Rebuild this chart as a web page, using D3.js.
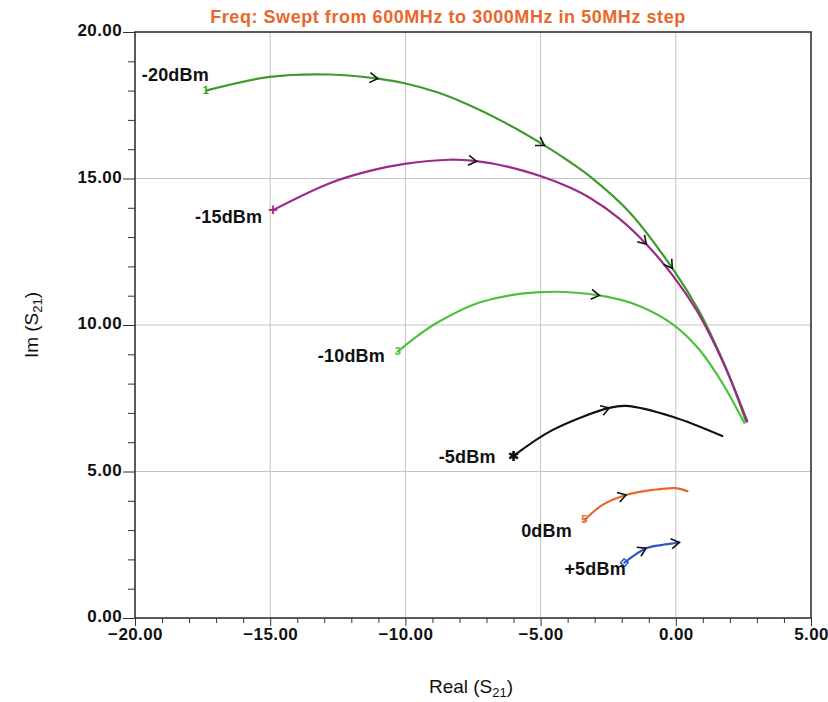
<!DOCTYPE html>
<html>
<head>
<meta charset="utf-8">
<script src="https://cdn.jsdelivr.net/npm/d3@7"></script>
<style>
  html, body { margin: 0; padding: 0; background: #fff; }
  svg { display: block; font-family: "Liberation Sans", Arial, Helvetica, sans-serif; }
</style>
</head>
<body>
<svg id="chart" width="828" height="702"></svg>
<script>
// ---------- data (Real, Im) ----------
const xTicks = [-20, -15, -10, -5, 0, 5];
const yTicks = [0, 5, 10, 15, 20];

const seriesNames = ["-20dBm", "-15dBm", "-10dBm", "-5dBm", "0dBm", "+5dBm"];
const seriesColors = ["#3f9a2c", "#9a2b88", "#4cc23a", "#111111", "#e8672c", "#3157c2"];
const startMarkers = ["1", "+", "3", "asterisk", "5", "diamond"];

const sM20 = [[-17.38,18.0],[-15.01,18.47],[-12.80,18.55],[-11.02,18.41],[-10.03,18.25],[-8.85,17.95],
              [-7.63,17.50],[-6.41,16.95],[-4.86,16.13],[-3.94,15.58],[-3.20,15.09],[-1.72,13.86],
              [-0.13,11.94],[0.86,10.48],[1.34,9.59],[1.97,8.28],[2.60,6.69]];
const sM15 = [[-14.90,13.92],[-12.80,14.84],[-11.32,15.26],[-10.03,15.50],[-8.37,15.64],[-7.37,15.59],
              [-6.15,15.39],[-4.93,15.06],[-3.94,14.70],[-3.20,14.35],[-2.09,13.63],[-1.09,12.76],
              [-0.13,11.71],[0.75,10.53],[1.34,9.52],[1.97,8.26],[2.64,6.72]];
const sM10 = [[-10.28,9.09],[-9.59,9.60],[-8.86,10.06],[-7.26,10.77],[-5.04,11.12],[-2.83,11.01],
              [-1.35,10.65],[-0.06,9.99],[0.86,9.17],[1.72,8.02],[2.53,6.66]];
const sM5  = [[-6.0,5.53],[-4.55,6.42],[-2.46,7.17],[-1.84,7.24],[-0.12,6.87],[1.72,6.21]];
const s0   = [[-3.38,3.34],[-2.71,3.86],[-1.84,4.2],[-0.86,4.37],[0.0,4.43],[0.43,4.33]];
const sP5  = [[-1.9,1.89],[-1.1,2.38],[-0.54,2.49],[0.0,2.56],[0.13,2.58]];
const allSeries = [sM20, sM15, sM10, sM5, s0, sP5];

// indices of points carrying a direction arrow
const arrowIdx = [[3, 8, 12], [5, 11], [5], [2], [2], [1, 4]];

// label anchor points (data coords, left/baseline) for the dBm labels
const labelPos = [[-19.75,18.33],[-17.78,13.48],[-13.24,8.75],[-8.77,5.29],[-5.72,2.77],[-4.12,1.47]];

// ---------- drawing ----------
const svg = d3.select("#chart");
const L = 135, R = 811, T = 32, B = 618;
const x = d3.scaleLinear().domain([-20, 5]).range([L, R]);
const y = d3.scaleLinear().domain([0, 20]).range([B, T]);
const minorX = d3.range(-20, 5.01, 1).filter(v => !xTicks.includes(v));
const minorY = d3.range(0, 20.01, 1).filter(v => !yTicks.includes(v));

svg.append("rect").attr("width", 828).attr("height", 702).attr("fill", "#fff");

// grid
const grid = svg.append("g").attr("stroke", "#c4c4c4").attr("stroke-width", 1);
grid.selectAll("line.gx").data(xTicks.slice(1, -1)).join("line")
  .attr("x1", d => x(d)).attr("x2", d => x(d)).attr("y1", T).attr("y2", B);
grid.selectAll("line.gy").data(yTicks.slice(1, -1)).join("line")
  .attr("y1", d => y(d)).attr("y2", d => y(d)).attr("x1", L).attr("x2", R);

// axes
const fmt = d3.format(".2f");
const xAxisMinor = svg.append("g").attr("transform", `translate(0,${B})`)
  .call(d3.axisBottom(x).tickValues(minorX).tickSize(5).tickFormat(""));
const xAxis = svg.append("g").attr("transform", `translate(0,${B})`)
  .call(d3.axisBottom(x).tickValues(xTicks).tickSize(8).tickPadding(2).tickFormat(fmt));
const yAxisMinor = svg.append("g").attr("transform", `translate(${L},0)`)
  .call(d3.axisLeft(y).tickValues(minorY).tickSize(7).tickFormat(""));
const yAxis = svg.append("g").attr("transform", `translate(${L},0)`)
  .call(d3.axisLeft(y).tickValues(yTicks).tickSize(12).tickPadding(1).tickFormat(fmt));
[xAxisMinor, xAxis, yAxisMinor, yAxis].forEach(g => {
  g.select(".domain").remove();
  g.selectAll(".tick line").attr("stroke", "#333").attr("stroke-width", 1);
  g.selectAll("text").attr("fill", "#111").attr("font-size", 17).attr("font-weight", "bold")
    .attr("letter-spacing", "0.4px").attr("font-family", '"Liberation Sans", Arial, sans-serif');
});
yAxis.selectAll("text").attr("dy", "0.22em");

// frame
svg.append("rect").attr("x", L).attr("y", T).attr("width", R - L).attr("height", B - T)
  .attr("fill", "none").attr("stroke", "#333").attr("stroke-width", 1.6);

// curves
const line = d3.line().x(d => x(d[0])).y(d => y(d[1])).curve(d3.curveCatmullRom.alpha(0.5));
const curves = svg.append("g");
allSeries.forEach((s, i) => {
  curves.append("path").datum(s).attr("d", line)
    .attr("fill", "none").attr("stroke", seriesColors[i]).attr("stroke-width", 2.2)
    .attr("stroke-linecap", "round");
});

// arrows
const arrows = svg.append("g");
allSeries.forEach((s, i) => {
  arrowIdx[i].forEach(k => {
    const a = s[Math.max(0, k - 1)], b = s[Math.min(s.length - 1, k + 1)];
    const ang = Math.atan2(y(b[1]) - y(a[1]), x(b[0]) - x(a[0])) * 180 / Math.PI;
    arrows.append("path")
      .attr("d", "M-8,-5 L0,0 L-8,5")
      .attr("transform", `translate(${x(s[k][0])},${y(s[k][1])}) rotate(${ang})`)
      .attr("fill", "none").attr("stroke", "#111").attr("stroke-width", 1.6)
      .attr("stroke-linejoin", "miter");
  });
});

// start markers
const marks = svg.append("g");
allSeries.forEach((s, i) => {
  const m = startMarkers[i];
  const px = x(s[0][0]), py = y(s[0][1]);
  if (m === "asterisk") {
    marks.append("path").attr("d", d3.symbol(d3.symbolAsterisk, 70)())
      .attr("transform", `translate(${px},${py})`)
      .attr("fill", "none").attr("stroke", seriesColors[i]).attr("stroke-width", 2.6);
  } else if (m === "diamond") {
    marks.append("path").attr("d", d3.symbol(d3.symbolSquare, 30)())
      .attr("transform", `translate(${px},${py}) rotate(40)`)
      .attr("fill", "none").attr("stroke", seriesColors[i]).attr("stroke-width", 1.5);
  } else {
    marks.append("text")
      .attr("x", px).attr("y", py)
      .attr("dy", "0.3em")
      .attr("text-anchor", "middle")
      .attr("font-size", m === "+" ? 17 : 11).attr("font-weight", "bold")
      .attr("fill", seriesColors[i]).text(m);
  }
});

// series labels
svg.append("g").selectAll("text").data(seriesNames).join("text")
  .attr("x", (d, i) => x(labelPos[i][0])).attr("y", (d, i) => y(labelPos[i][1]))
  .attr("font-size", 18).attr("font-weight", "bold").attr("fill", "#111")
  .attr("letter-spacing", "0.2px")
  .text(d => d);

// title
svg.append("text").attr("x", 448).attr("y", 23).attr("text-anchor", "middle")
  .attr("font-size", 18).attr("font-weight", "bold").attr("fill", "#e8672c")
  .attr("letter-spacing", "0.55px")
  .text("Freq: Swept from 600MHz to 3000MHz in 50MHz step");

// axis titles
const xt = svg.append("text").attr("x", 471).attr("y", 693).attr("text-anchor", "middle")
  .attr("font-size", 19).attr("fill", "#111");
xt.append("tspan").text("Real (S");
xt.append("tspan").attr("font-size", 13).attr("dy", 4).text("21");
xt.append("tspan").attr("dy", -4).text(")");

const yt = svg.append("text").attr("transform", "translate(38,325) rotate(-90)")
  .attr("text-anchor", "middle").attr("font-size", 19).attr("fill", "#111");
yt.append("tspan").text("Im (S");
yt.append("tspan").attr("font-size", 13).attr("dy", 4).text("21");
yt.append("tspan").attr("dy", -4).text(")");
</script>
</body>
</html>
